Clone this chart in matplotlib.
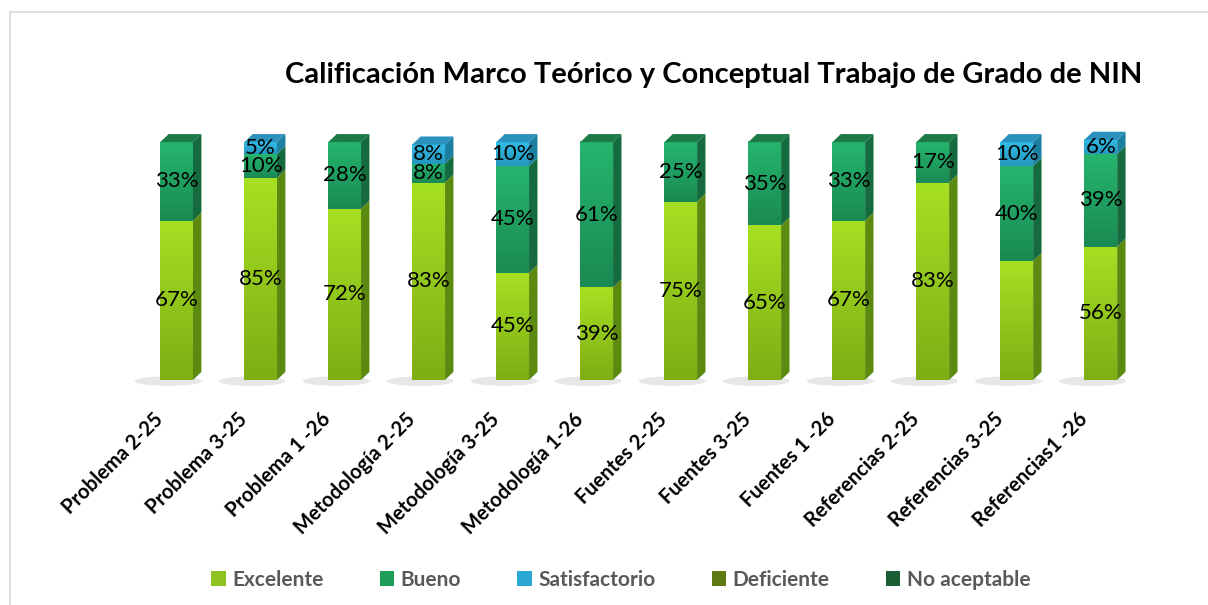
import numpy as np
import matplotlib.pyplot as plt
from matplotlib.patches import Polygon, Patch, Ellipse
from matplotlib.lines import Line2D
from matplotlib.colors import LinearSegmentedColormap
from matplotlib.transforms import ScaledTranslation

# datos
categorias = ['Problema 2-25', 'Problema 3-25', 'Problema 1 -26', 'Metodología 2-25',
              'Metodología 3-25', 'Metodología 1-26', 'Fuentes 2-25', 'Fuentes 3-25',
              'Fuentes 1 -26', 'Referencias 2-25', 'Referencias 3-25', 'Referencias1 -26']
excelente = [67, 85, 72, 83, 45, 39, 75, 65, 67, 83, 50, 56]
bueno = [33, 10, 28, 8, 45, 61, 25, 35, 33, 17, 40, 39]
satisfactorio = [0, 5, 0, 8, 10, 0, 0, 0, 0, 0, 10, 6]
deficiente = [0] * 12
no_aceptable = [0] * 12
series = ['Excelente', 'Bueno', 'Satisfactorio', 'Deficiente', 'No aceptable']
# etiquetas que no aparecen en el original (serie, categoria)
sin_etiqueta = {(0, 10)}

# estilos de cada serie: abajo, arriba, lado, tapa, leyenda
estilos = [
    dict(abajo='#7EAE15', arriba='#A6E022', lado='#5C8A10', tapa='#7FB818', ley='#8DC21F'),
    dict(abajo='#1A8A52', arriba='#25B56E', lado='#156A3E', tapa='#1B7A47', ley='#1F9E5A'),
    dict(abajo='#2396BE', arriba='#33BCE6', lado='#1B7FA0', tapa='#2A92BC', ley='#2BA7D3'),
    dict(abajo='#56700F', arriba='#6D8C17', lado='#44580B', tapa='#56700F', ley='#5F7A12'),
    dict(abajo='#17502E', arriba='#1F6B3E', lado='#123F24', tapa='#17502E', ley='#1B5E36'),
]

ancho = 0.39
dx, dy = 0.1, 3.4

fig = plt.figure(figsize=(12.08, 6.05), dpi=100)
fig.patch.set_facecolor('white')
# borde del recuadro (solo arriba e izquierda, como en la captura)
fig.add_artist(Line2D([10 / 1208, 1], [1 - 12 / 605, 1 - 12 / 605], transform=fig.transFigure,
                      color='#D9D9D9', lw=1.2))
fig.add_artist(Line2D([10 / 1208, 10 / 1208], [0, 1 - 12 / 605], transform=fig.transFigure,
                      color='#D9D9D9', lw=1.2))

ax = fig.add_axes([0.101, 0.372, 0.845, 0.393])

valores = [excelente, bueno, satisfactorio, deficiente, no_aceptable]
x = np.arange(len(categorias))

for i in x:
    # sombra en el piso
    ax.add_patch(Ellipse((i - 0.1, -0.5), 0.8, 4.0, color='#D4D4D4', alpha=0.55,
                         zorder=1, lw=0, clip_on=False))
    base = 0
    tope = max(k for k in range(len(valores)) if valores[k][i] > 0)
    for k, vals in enumerate(valores):
        h = vals[i]
        if h <= 0:
            continue
        e = estilos[k]
        x0, x1 = i - ancho / 2, i + ancho / 2
        cmap = LinearSegmentedColormap.from_list('g', [e['abajo'], e['arriba']])
        grad = np.linspace(0, 1, 64).reshape(-1, 1)
        im = ax.imshow(grad, extent=[x0, x1, base, base + h], origin='lower', cmap=cmap,
                       aspect='auto', zorder=3, interpolation='bilinear')
        im.set_clip_on(False)
        ax.add_patch(Polygon([(x1, base), (x1 + dx, base + dy), (x1 + dx, base + h + dy), (x1, base + h)],
                             closed=True, facecolor=e['lado'], lw=0, zorder=2, clip_on=False))
        if k == tope:
            ax.add_patch(Polygon([(x0, base + h), (x0 + dx, base + h + dy),
                                  (x1 + dx, base + h + dy), (x1, base + h)],
                                 closed=True, facecolor=e['tapa'], lw=0, zorder=4, clip_on=False))
        if (k, i) not in sin_etiqueta:
            ax.text(i, base + h / 2, f'{h}%', ha='center', va='center', fontsize=16,
                    family='Lato', color='black', zorder=6)
        base += h

ax.axhline(-1.2, color='#D9D9D9', lw=2.5, zorder=0)
ax.set_xlim(-0.65, 11.5)
ax.set_ylim(0, 100)
ax.set_yticks([])
for s in ax.spines.values():
    s.set_visible(False)
ax.set_xticks(x)
ax.set_xticklabels(categorias, rotation=45, ha='right', rotation_mode='anchor',
                   fontsize=14.5, fontweight='bold', family='Lato')
ax.tick_params(axis='x', length=0, pad=21)
desplaza = ScaledTranslation(-17 / 72, 0, fig.dpi_scale_trans)
for t in ax.get_xticklabels():
    t.set_transform(t.get_transform() + desplaza)

fig.text(0.591, 0.876, 'Calificación Marco Teórico y Conceptual Trabajo de Grado de NIN',
         ha='center', va='center', fontsize=21, fontweight='bold', family='Lato')

manejadores = [Patch(facecolor=e['ley'], edgecolor='none', label=n) for e, n in zip(estilos, series)]
ley = fig.legend(handles=manejadores, loc='center', bbox_to_anchor=(0.514, 0.042), ncol=5,
                 frameon=False, handlelength=0.7, handleheight=0.7, handletextpad=0.3,
                 columnspacing=2.7, prop={'family': 'Lato', 'weight': 'bold', 'size': 15})
for t in ley.get_texts():
    t.set_color('#595959')
    t.set_fontweight('bold')

fig.savefig('out.png', dpi=100)
